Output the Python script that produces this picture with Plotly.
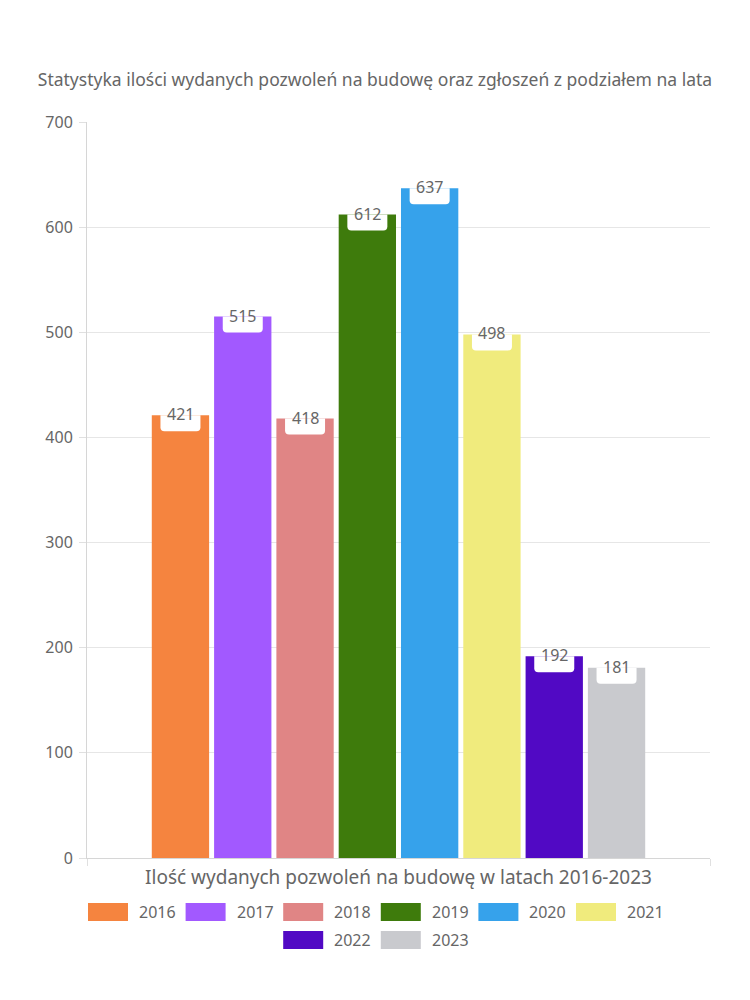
import plotly.graph_objects as go

years = ["2016", "2017", "2018", "2019", "2020", "2021", "2022", "2023"]
values = [421, 515, 418, 612, 637, 498, 192, 181]
colors = ["#F5843F", "#A259FF", "#E08585", "#3E7B0C", "#36A2EB", "#F0EB7D", "#5109C4", "#C9CACE"]
category = "Ilość wydanych pozwoleń na budowę w latach 2016-2023"
title = "Statystyka ilości wydanych pozwoleń na budowę oraz zgłoszeń z podziałem na lata"
yticks = [0, 100, 200, 300, 400, 500, 600, 700]

FONT = "Noto Sans"
TXT = "#666666"
W, H = 750, 1000
ML, MR, MT, MB = 87, 40, 122, 142
PW, PH = W - ML - MR, H - MT - MB

BARGAP, GROUPGAP = 0.2, 0.08
n = len(years)

fig = go.Figure()
for i, (yr, v, c) in enumerate(zip(years, values, colors)):
    fig.add_trace(go.Bar(x=[category], y=[v], name=yr, marker=dict(color=c, line=dict(width=0)),
                         showlegend=False, hoverinfo="y+name"))

slot = (1 - BARGAP) / n
for i, v in enumerate(values):
    xc = -(1 - BARGAP) / 2 + slot * (i + 0.5)
    fig.add_shape(type="path", xref="x", yref="y", xsizemode="pixel", ysizemode="pixel",
                  xanchor=xc, yanchor=v,
                  path="M -20,0 L 20,0 L 20,-12 Q 20,-16 16,-16 L -16,-16 Q -20,-16 -20,-12 Z",
                  fillcolor="white", line=dict(width=0), layer="above")
    fig.add_annotation(x=xc, y=v, xref="x", yref="y", text=str(v), showarrow=False,
                       yanchor="middle", yshift=1, font=dict(family=FONT, size=16, color=TXT))

# custom legend
rows = [list(range(0, 6)), list(range(6, 8))]
row_y = [912, 940]
pitch = 97.6
sw, sh, gap = 40, 18, 9
text_w = 37
px = lambda p: (p - ML) / PW
py = lambda p: (H - MB - p) / PH
for r, idx in enumerate(rows):
    total = pitch * (len(idx) - 1) + sw + gap + text_w
    start = W / 2 - total / 2
    for k, i in enumerate(idx):
        x0 = start + k * pitch
        fig.add_shape(type="rect", xref="paper", yref="paper",
                      x0=px(x0), x1=px(x0 + sw), y0=py(row_y[r] - sh / 2), y1=py(row_y[r] + sh / 2),
                      fillcolor=colors[i], line=dict(width=0))
        fig.add_annotation(xref="paper", yref="paper", x=px(x0 + sw + gap), y=py(row_y[r]),
                           xanchor="left", yanchor="middle", text=years[i], showarrow=False,
                           font=dict(family=FONT, size=16, color=TXT))

fig.update_layout(
    width=W, height=H,
    margin=dict(l=ML, r=MR, t=MT, b=MB),
    paper_bgcolor="white", plot_bgcolor="white",
    barmode="group", bargap=BARGAP, bargroupgap=GROUPGAP,
    font=dict(family=FONT, color=TXT),
    title=dict(text=title, x=0.5, xref="container", xanchor="center", y=1 - 80 / H, yanchor="middle",
               font=dict(family=FONT, size=17.5, color=TXT)),
    showlegend=False,
)
fig.update_xaxes(type="category", range=[-0.5, 0.5], tickson="boundaries", ticks="outside", ticklen=7,
                 tickcolor="#e0e0e0", showgrid=True, gridcolor="#e6e6e6", showline=True,
                 linecolor="#d6d6d6", tickfont=dict(family=FONT, size=19, color=TXT), ticklabelstandoff=2)
fig.update_yaxes(range=[0, 700], tickvals=yticks, ticks="outside", ticklen=7, tickcolor="#e0e0e0",
                 showgrid=True, gridcolor="#e6e6e6", showline=True, linecolor="#d6d6d6", zeroline=False,
                 tickfont=dict(family=FONT, size=16, color=TXT), ticklabelstandoff=3)

fig.write_html("out.html")
